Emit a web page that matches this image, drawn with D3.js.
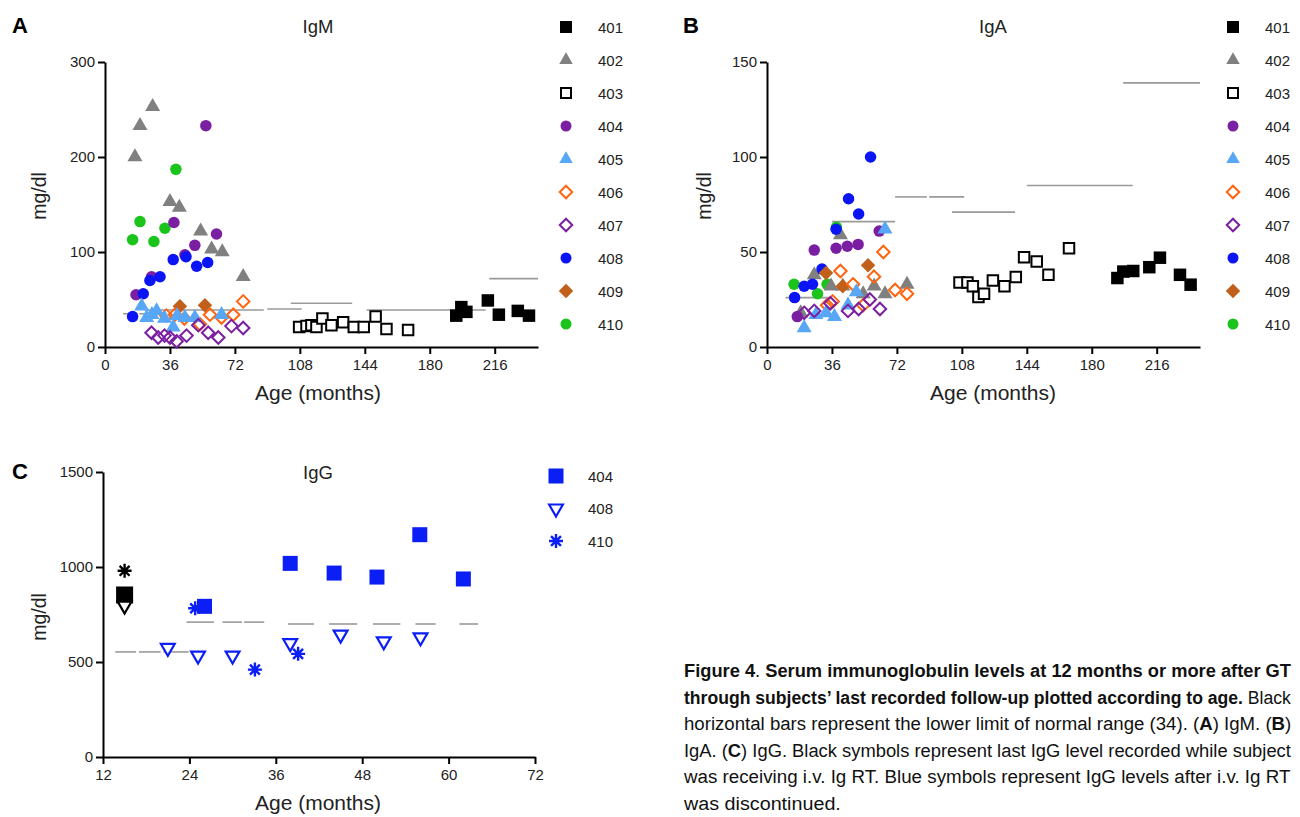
<!DOCTYPE html>
<html><head><meta charset="utf-8">
<script src="https://cdn.jsdelivr.net/npm/d3@7/dist/d3.min.js"></script>
<style>
html,body{margin:0;padding:0;background:#fff;}
svg{display:block;}
text{font-family:"Liberation Sans",Arial,sans-serif;}
</style></head>
<body>
<svg id="fig" width="1300" height="817"></svg>
<script>
// ---------------- DATA ----------------
const subjects = ["401","402","403","404","405","406","407","408","409","410"];
const xTicksAB = [0,36,72,108,144,180,216];
const yTicksA = [0,100,200,300];
const yTicksB = [0,50,100,150];
const xTicksC = [12,24,36,48,60,72];
const yTicksC = [0,500,1000,1500];

// Panel A: IgM (age months, mg/dl)
const igm401 = [[194.7,33],[197.5,42],[200.3,37],[212.2,49],[218.3,34],[228.8,38],[235,33]];
const igm402 = [[16.6,200],[19.4,233],[26.4,253],[36,153],[41.2,147],[53,122],[59.1,103],[65,100],[76.6,74]];
const igm403 = [[107.6,21],[111.7,22],[114.4,23],[117.2,21],[120.5,30],[125.5,23],[132,26],[137.9,21],[143.4,21],[150,32],[156,19],[168,18]];
const igm404 = [[17.2,55],[25.8,74],[38.2,131],[44.3,97],[49.8,107],[55.9,233],[61.8,119]];
const igm405 = [[20.3,43],[23.1,31],[26,34],[28.6,38],[33,30],[37.8,21],[40,33],[44.3,31],[49.8,31],[64.6,34]];
const igm406 = [[34,33],[38.8,34],[44,30],[52.6,24],[58.2,34],[64.6,31],[71.1,34],[76.6,48]];
const igm407 = [[25.8,15],[29.5,10],[33,12],[36,10],[39.7,6],[45.2,12],[51.7,23],[57.2,15],[62.8,10],[70.1,22],[76.6,20]];
const igm408 = [[15.3,32],[21.2,56],[24.9,70],[30.5,74],[37.8,92],[44.9,95],[50.8,85],[56.9,89]];
const igm409 = [[41.5,43],[55.4,44]];
const igm410 = [[15.3,113],[19.4,132],[27.1,111],[33.2,125],[39.3,187]];
// lower limit of normal bars: [from month, to month, mg/dl]
const igmNormal = [[10,18,35],[19,28,35],[22,88,39],[90,109,40],[103,137,46],[145,211,39],[213,240,72]];

// Panel B: IgA
const iga401 = [[194.2,36.3],[197.5,39.7],[203,40],[211.9,42],[217.8,47],[228.9,38],[234.8,32.8]];
const iga402 = [[18.7,18],[26.2,38],[35.5,32],[40.7,59],[42,32],[53.3,28],[59.4,32],[65.4,28],[77.6,33]];
const iga403 = [[106.7,34],[111.1,34],[114.1,32],[117.2,26.3],[120.3,28],[125.2,35],[131.6,32],[137.9,36.8],[142.5,47.3],[149.5,45],[156,38],[167.4,52]];
const iga404 = [[16.8,16],[26.2,51],[38.3,52],[44.5,53],[50.5,54],[62.2,61]];
const iga405 = [[20.6,10],[27.1,17],[32.7,18],[37.4,16],[44.9,22],[49.5,29],[65.4,62]];
const iga406 = [[33.3,22],[36.4,24],[40.7,40],[47.7,33],[53.3,22],[59.3,37],[64.5,50],[71,30],[77.6,28]];
const iga407 = [[20.6,18],[26.2,19],[35.1,23],[44.9,19],[50.8,20],[57,25],[62.6,20]];
const iga408 = [[15.3,26],[20.6,32],[25.2,33],[30.5,41],[38.3,62],[45.2,78],[50.8,70],[57.4,100]];
const iga409 = [[32.7,39],[42,32],[56,43]];
const iga410 = [[15,33],[28,28],[33.3,33],[38.5,63]];
const igaNormal = [[10.3,35.5,26],[36,71,66],[71,88.6,79],[89.9,109.3,79],[102.5,137.5,71],[144,202.7,85],[197.4,240,139]];

// Panel C: IgG
const iggOnRT404 = [[15,853]];
const iggOnRT408 = [[15,797]];
const iggOnRT410 = [[15,980]];
const igg404 = [[26.1,793],[38,1019],[44.1,968],[50.05,947],[56,1170],[62.05,937]];
const igg408 = [[21,574],[25.2,534],[30,534],[38,599],[45,644],[51,609],[56.1,630]];
const igg410 = [[24.8,783],[33.1,460],[39.1,543]];
const iggNormal = [[13.7,16.6,553],[17,20,553],[20.4,23.9,553],[23.6,27.4,710],[28.6,31.3,710],[31.6,34.4,710],[37.7,41.3,700],[43.4,47.3,700],[49.5,53.3,700],[55.4,58.2,700],[61.5,64.1,700]];
const iggLegend = ["404","408","410"];

const captionLines = [
  [["Figure 4",true],[". ",false],["Serum immunoglobulin levels at 12 months or more after GT",true]],
  [["through subjects\u2019 last recorded follow-up plotted according to age.",true],[" Black",false]],
  [["horizontal bars represent the lower limit of normal range (34). (",false],["A",true],[") IgM. (",false],["B",true],[")",false]],
  [["IgA. (",false],["C",true],[") IgG. Black symbols represent last IgG level recorded while subject",false]],
  [["was receiving i.v. Ig RT. Blue symbols represent IgG levels after i.v. Ig RT",false]],
  [["was discontinued.",false]]
];

// ---------------- STYLES ----------------
const styles = {
  "401":{shape:"square",fill:"#000",stroke:"none"},
  "402":{shape:"triangle",fill:"#808080",stroke:"none"},
  "403":{shape:"square",fill:"#fff",stroke:"#000"},
  "404":{shape:"circle",fill:"#7B1FA2",stroke:"none"},
  "405":{shape:"triangle",fill:"#58A6F6",stroke:"none"},
  "406":{shape:"diamond",fill:"none",stroke:"#FF6410"},
  "407":{shape:"diamond",fill:"none",stroke:"#7B1FA2"},
  "408":{shape:"circle",fill:"#0A14F5",stroke:"none"},
  "409":{shape:"diamond",fill:"#C0601A",stroke:"none"},
  "410":{shape:"circle",fill:"#1BC41B",stroke:"none"}
};
const sizes = {square:12.5, triangle:15, circle:11.5, diamond:14.5};

function symPath(shape, s){
  if(shape==="square"){const h=s/2;return `M${-h},${-h}H${h}V${h}H${-h}Z`;}
  if(shape==="triangle"){const h=s*Math.sqrt(3)/2;return `M0,${-h*2/3}L${s/2},${h/3}L${-s/2},${h/3}Z`;}
  if(shape==="dtriangle"){const h=s*Math.sqrt(3)/2;return `M0,${h*2/3}L${s/2},${-h/3}L${-s/2},${-h/3}Z`;}
  if(shape==="circle"){const r=s/2;return `M${r},0A${r},${r} 0 1,1 ${-r},0A${r},${r} 0 1,1 ${r},0Z`;}
  if(shape==="diamond"){const h=s/2;return `M0,${-h}L${h},0L0,${h}L${-h},0Z`;}
  if(shape==="asterisk"){const r=s/2;let p="";for(let i=0;i<4;i++){const a=i*Math.PI/4;p+=`M${-r*Math.cos(a)},${-r*Math.sin(a)}L${r*Math.cos(a)},${r*Math.sin(a)}`;}return p;}
}
function marker(g, shape, style, s, x, y, sw){
  const open = style.fill==="none"||style.fill==="#fff";
  const pad = open ? (sw||2)/2 : 0;
  g.append("path").attr("d", symPath(shape, s - pad*2))
   .attr("transform",`translate(${x},${y})`)
   .attr("fill", shape==="asterisk"?"none":style.fill)
   .attr("stroke", style.stroke)
   .attr("stroke-width", shape==="asterisk"?2.4:(style.stroke==="none"?0:(sw||2)));
}

const svg = d3.select("#fig");

function styleAxis(g){
  g.selectAll(".domain").attr("stroke","#000").attr("stroke-width",2);
  g.selectAll(".tick line").attr("stroke","#000").attr("stroke-width",2);
  g.selectAll(".tick text").attr("font-family","Liberation Sans, Arial, sans-serif").attr("font-size",15).attr("fill","#222");
}

function panel(opt){
  const x = d3.scaleLinear().domain(opt.xDomain).range(opt.xRange);
  const y = d3.scaleLinear().domain(opt.yDomain).range(opt.yRange);
  const g = svg.append("g");
  g.append("g").selectAll("line").data(opt.normal).join("line")
    .attr("x1",d=>x(d[0])).attr("x2",d=>x(d[1]))
    .attr("y1",d=>y(d[2])).attr("y2",d=>y(d[2]))
    .attr("stroke","#9a9a9a").attr("stroke-width",1.6);
  const ax = g.append("g").attr("transform",`translate(0,${opt.yRange[0]})`)
    .call(d3.axisBottom(x).tickValues(opt.xTicks).tickFormat(d3.format("d")).tickSize(7).tickSizeOuter(0).tickPadding(5));
  styleAxis(ax);
  const ay = g.append("g").attr("transform",`translate(${opt.xRange[0]},0)`)
    .call(d3.axisLeft(y).tickValues(opt.yTicks).tickFormat(d3.format("d")).tickSize(7).tickSizeOuter(0).tickPadding(3));
  styleAxis(ay);
  opt.series.forEach(s=>{
    const sg = g.append("g");
    s.data.forEach(d=> marker(sg, s.shape, s.style, s.size, x(d[0]), y(d[1]), s.sw));
  });
  g.append("text").attr("x",opt.titleX).attr("y",opt.titleY).attr("text-anchor","middle")
    .attr("font-size",18.5).attr("fill","#222").text(opt.title);
  g.append("text").attr("x",opt.letterX).attr("y",opt.titleY).attr("font-size",22)
    .attr("font-weight","bold").attr("fill","#000").text(opt.letter);
  g.append("text").attr("x",opt.titleX).attr("y",opt.xLabelY).attr("text-anchor","middle")
    .attr("font-size",21).attr("fill","#222").text("Age (months)");
  g.append("text").attr("transform",`translate(${opt.yLabelX},${opt.yLabelY}) rotate(-90)`)
    .attr("text-anchor","middle").attr("font-size",19.5).attr("fill","#222").text("mg/dl");
  return {x,y,g};
}

function seriesFor(arrs){
  return subjects.map((k,i)=>({key:k, data:arrs[i], shape:styles[k].shape, style:styles[k], size:sizes[styles[k].shape]}));
}

const seriesA = seriesFor([igm401,igm402,igm403,igm404,igm405,igm406,igm407,igm408,igm409,igm410]);
const seriesB = seriesFor([iga401,iga402,iga403,iga404,iga405,iga406,iga407,iga408,iga409,iga410]);
const drawOrder = ["403","401","410","402","404","408","409","406","405","407"];
function ordered(ser){ return drawOrder.map(k=>ser.find(s=>s.key===k)); }

panel({xDomain:[0,240],xRange:[105,538],yDomain:[0,300],yRange:[347,62],
  xTicks:xTicksAB,yTicks:yTicksA,normal:igmNormal,series:ordered(seriesA),
  title:"IgM",titleX:318,titleY:33,letter:"A",letterX:12,xLabelY:400,yLabelX:46,yLabelY:196});
panel({xDomain:[0,240],xRange:[767,1200],yDomain:[0,150],yRange:[347,62],
  xTicks:xTicksAB,yTicks:yTicksB,normal:igaNormal,series:ordered(seriesB),
  title:"IgA",titleX:993,titleY:33,letter:"B",letterX:683,xLabelY:400,yLabelX:711,yLabelY:196});

function legendAB(mx, lx){
  const lg = svg.append("g");
  const ly = d3.scalePoint().domain(subjects).range([27,324]);
  subjects.forEach(k=>{
    const st = styles[k];
    const s = {square:12,triangle:13.5,circle:11,diamond:14.5}[st.shape];
    marker(lg, st.shape, st, s, mx, ly(k), 2);
    lg.append("text").attr("x",lx).attr("y",ly(k)+5.5).attr("font-size",15).attr("fill","#222").text(k);
  });
}
legendAB(566,598);
legendAB(1233,1265);

// Panel C
const blue = {fill:"#0A1EF5",stroke:"#0A1EF5"};
const blueOpen = {fill:"#fff",stroke:"#0A1EF5"};
const blk = {fill:"#000",stroke:"#000"};
const blkOpen = {fill:"#fff",stroke:"#000"};
panel({xDomain:[12,72],xRange:[103,535],yDomain:[0,1500],yRange:[757,472],
  xTicks:xTicksC,yTicks:yTicksC,normal:iggNormal,
  series:[
    {data:iggOnRT404,shape:"square",style:blk,size:15},
    {data:iggOnRT408,shape:"dtriangle",style:blkOpen,size:16,sw:2.2},
    {data:iggOnRT410,shape:"asterisk",style:blk,size:14},
    {data:igg408,shape:"dtriangle",style:blueOpen,size:16,sw:2.2},
    {data:igg410,shape:"asterisk",style:blue,size:14},
    {data:igg404,shape:"square",style:{fill:"#0A1EF5",stroke:"none"},size:15}
  ],
  title:"IgG",titleX:318,titleY:479,letter:"C",letterX:12,xLabelY:810,yLabelX:46,yLabelY:617});
(function(){
  const lg = svg.append("g");
  const ly = d3.scalePoint().domain(iggLegend).range([476,541]);
  const sh = {"404":["square",{fill:"#0A1EF5",stroke:"none"},15],"408":["dtriangle",blueOpen,16],"410":["asterisk",blue,14]};
  iggLegend.forEach(k=>{
    marker(lg, sh[k][0], sh[k][1], sh[k][2], 556, ly(k), 2.2);
    lg.append("text").attr("x",588).attr("y",ly(k)+5.5).attr("font-size",15).attr("fill","#222").text(k);
  });
})();

// Caption: each line is one text with tspans, horizontally condensed with a transform
(function(){
  const fam = "Lato,'Noto Sans',sans-serif";
  const fs = 19;
  const x0 = 684, xMax = 1292;
  const cg = svg.append("g");
  const probe = cg.append("text").attr("font-family",fam).attr("font-size",fs).text("was discontinued.");
  const k = 157/probe.node().getComputedTextLength();
  probe.remove();
  captionLines.forEach((parts,i)=>{
    const t = cg.append("text").attr("x",0).attr("y",0)
      .attr("font-family",fam).attr("font-size",fs).attr("fill","#111");
    parts.forEach(p=>t.append("tspan").attr("font-weight",p[1]?"bold":"normal").text(p[0]));
    const L = t.node().getBBox().width;
    const s = Math.min(k, (xMax-x0)/L);
    t.attr("transform",`translate(${x0},${677+i*26.6}) scale(${s},1)`);
  });
})();
</script>
</body></html>
